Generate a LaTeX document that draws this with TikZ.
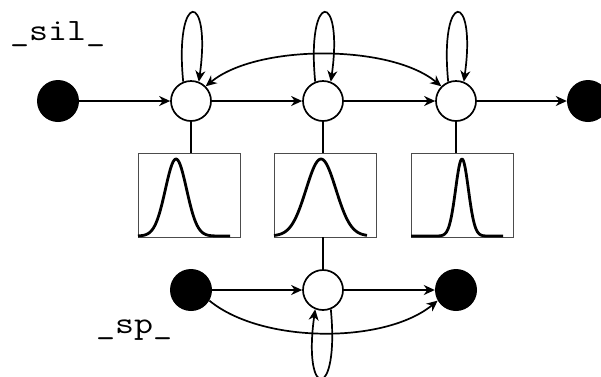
\documentclass[tikz,border=0pt]{standalone}
\usepackage{fontspec}
\usetikzlibrary{arrows.meta}
\begin{document}
\begin{tikzpicture}[x=1pt,y=-1pt,
  conn/.style={line width=1.7pt},
  arr/.style={conn,-{Stealth[length=11pt,width=10pt,inset=3.5pt]}},
  darr/.style={conn,{Stealth[length=11pt,width=10pt,inset=3.5pt]}-{Stealth[length=11pt,width=10pt,inset=3.5pt]}},
  openst/.style={circle,draw,line width=1.7pt,fill=white,minimum size=40pt,inner sep=0pt},
  fillst/.style={circle,fill=black,minimum size=42pt,inner sep=0pt},
  pdfbox/.style={draw=black!70,line width=0.8pt,minimum width=102pt,minimum height=84pt,inner sep=0pt},
  gauss/.style={line width=2.8pt,line join=round},
  lbl/.style={font=\ttfamily\fontsize{31}{34}\selectfont,inner sep=0pt,anchor=base west}
]
\useasboundingbox (0,0) rectangle (601,376);
% labels
\node[lbl] (sil) at (10,40) {\scalebox{1.19}[1]{\_sil\_}};
\node[lbl] (sp) at (96,333) {\scalebox{1.19}[1]{\_sp\_}};
% pdf boxes
\node[pdfbox] (p1) at (189,195) {};
\node[pdfbox] (p2) at (325.5,195) {};
\node[pdfbox] (p3) at (462,195) {};
\draw[gauss] plot[domain=138:230,samples=90,smooth] (\x,{236-77*exp(-0.5*((\x-176)/10.6)^2)});
\draw[gauss] plot[domain=274:367,samples=90,smooth] (\x,{236-77*exp(-0.5*((\x-321)/14.9)^2)});
\draw[gauss] plot[domain=411:503,samples=120,smooth] (\x,{236-77*exp(-0.5*((\x-462)/6.4)^2)});
% top states
\node[fillst] (f1) at (58,101) {};
\node[openst] (t1) at (191,101) {};
\node[openst] (t2) at (323,101) {};
\node[openst] (t3) at (456,101) {};
\node[fillst] (f2) at (588,101) {};
% bottom states
\node[fillst] (b1) at (191,290) {};
\node[openst] (b2) at (323,290) {};
\node[fillst] (b3) at (456,290) {};
% vertical links
\draw[conn] (t1.south) -- (p1.north -| t1.south);
\draw[conn] (t2.south) -- (p2.north -| t2.south);
\draw[conn] (t3.south) -- (p3.north -| t3.south);
\draw[conn] (p2.south -| b2.north) -- (b2.north);
% top transitions
\draw[arr] (f1) -- (t1);
\draw[arr] (t1) -- (t2);
\draw[arr] (t2) -- (t3);
\draw[arr] (t3) -- (f2);
\draw[darr] (t3.135) .. controls (390,44) and (257,44) .. (t1.45);
% self loops
\foreach \n in {t1,t2,t3}{
  \draw[arr] (\n.112) .. controls +(-9,-92) and +(13,-92) .. (\n.68);
}
\draw[arr] (b2.-68) .. controls +(9,92) and +(-13,92) .. (b2.-112);
% bottom transitions
\draw[arr] (b1) -- (b2);
\draw[arr] (b2) -- (b3);
\draw[arr] (b1.-30) .. controls (262,344) and (385,344) .. (b3.-150);
\end{tikzpicture}
\end{document}
